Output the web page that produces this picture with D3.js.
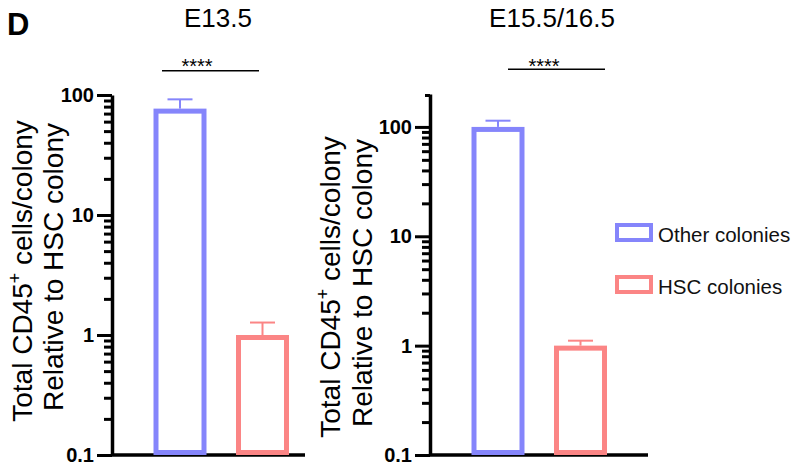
<!DOCTYPE html>
<html>
<head>
<meta charset="utf-8">
<script src="https://cdn.jsdelivr.net/npm/d3@7"></script>
<style>
  html, body { margin: 0; padding: 0; background: #fff; }
  svg { display: block; font-family: "Liberation Sans", Arial, sans-serif; }
</style>
</head>
<body>
<svg id="chart" width="794" height="467"></svg>
<script>
// ---- data ----
const panelTitles = ["E13.5", "E15.5/16.5"];
const categories = ["Other colonies", "HSC colonies"];
const meansE13 = [77, 1.0];
const upperE13 = [92, 1.27];
const meansE15 = [100, 1.0];
const upperE15 = [114, 1.11];
const significance = ["****", "****"];
const majorTicks = [0.1, 1, 10, 100];
const majorTickLabels = ["0.1", "1", "10", "100"];
const domainE13 = [0.1, 100];
const domainE15 = [0.1, 200];

// ---- layout / style ----
const colors = ["#8585fb", "#fb8585"];
const svg = d3.select("#chart");

const panels = [
  { title: panelTitles[0], means: meansE13, upper: upperE13, domain: domainE13,
    axisX: 112, top: 95, base: 455, xEnd: 305, titleX: 218, titleY: 27,
    labelX: [32, 63], labelCY: 271, sig: significance[0], sigX: [162, 259], sigY: 70.7, starX: 197 },
  { title: panelTitles[1], means: meansE15, upper: upperE15, domain: domainE15,
    axisX: 430, top: 94, base: 455, xEnd: 648, titleX: 552, titleY: 27,
    labelX: [340, 372], labelCY: 287, sig: significance[1], sigX: [508, 605], sigY: 69.3, starX: 544 }
];

// panel letter
svg.append("text").attr("x", 7).attr("y", 35)
  .attr("font-size", 31).attr("font-weight", "bold").text("D");

function minorValues(domain) {
  const out = [];
  const lo = Math.floor(Math.log10(domain[0]));
  const hi = Math.ceil(Math.log10(domain[1]));
  for (let e = lo; e < hi; e++) {
    for (let m = 2; m <= 9; m++) {
      const v = m * Math.pow(10, e);
      if (v > domain[0] * 1.0001 && v < domain[1] * 0.9999) out.push(v);
    }
  }
  return out;
}

panels.forEach(p => {
  const g = svg.append("g");
  const y = d3.scaleLog().domain(p.domain).range([p.base, p.top]);
  const x = d3.scaleBand().domain(categories)
    .range([p.axisX + 41.5, p.axisX + 177]).paddingInner(0.3576).paddingOuter(0);

  // title
  g.append("text").attr("x", p.titleX).attr("y", p.titleY)
    .attr("text-anchor", "middle").attr("font-size", 26).text(p.title);

  // major axis
  const majAxis = d3.axisLeft(y).tickValues(majorTicks)
    .tickFormat((d, i) => majorTickLabels[i]).tickSize(15).tickSizeOuter(0).tickPadding(3);
  const ga = g.append("g").attr("transform", `translate(${p.axisX},0)`).call(majAxis);
  ga.select(".domain").attr("stroke", "#000").attr("stroke-width", 3.5);
  ga.selectAll(".tick line").attr("stroke", "#000").attr("stroke-width", 3);
  ga.selectAll(".tick text").attr("font-size", 20).attr("font-weight", "bold")
    .attr("fill", "#000").attr("font-family", "'Liberation Sans', Arial, sans-serif");

  // minor ticks
  const minAxis = d3.axisLeft(y).tickValues(minorValues(p.domain)).tickSize(8)
    .tickSizeOuter(0).tickFormat("");
  const gm = g.append("g").attr("transform", `translate(${p.axisX},0)`).call(minAxis);
  gm.select(".domain").remove();
  gm.selectAll(".tick line").attr("stroke", "#000").attr("stroke-width", 3);

  // top end tick (if axis extends beyond last major)
  if (p.domain[1] > majorTicks[majorTicks.length - 1]) {
    g.append("line").attr("x1", p.axisX - 5).attr("x2", p.axisX)
      .attr("y1", y(p.domain[1]) + 1.5).attr("y2", y(p.domain[1]) + 1.5)
      .attr("stroke", "#000").attr("stroke-width", 3);
  }

  // x-axis line
  g.append("line").attr("x1", p.axisX).attr("x2", p.xEnd)
    .attr("y1", y(p.domain[0])).attr("y2", y(p.domain[0]))
    .attr("stroke", "#000").attr("stroke-width", 3.5);

  // bars (stroke drawn inside bar bounds)
  const sw = 5;
  categories.forEach((c, i) => {
    const v = p.means[i];
    g.append("rect")
      .attr("x", x(c) + sw / 2).attr("y", y(v) + sw / 2)
      .attr("width", x.bandwidth() - sw)
      .attr("height", y(p.domain[0]) - y(v) - sw)
      .attr("fill", "none").attr("stroke", colors[i]).attr("stroke-width", sw);
    const cx = x(c) + x.bandwidth() / 2;
    g.append("line").attr("x1", cx).attr("x2", cx)
      .attr("y1", y(v)).attr("y2", y(p.upper[i]))
      .attr("stroke", colors[i]).attr("stroke-width", 2);
    g.append("line").attr("x1", cx - 12.5).attr("x2", cx + 12.5)
      .attr("y1", y(p.upper[i])).attr("y2", y(p.upper[i]))
      .attr("stroke", colors[i]).attr("stroke-width", 2);
  });

  // significance
  g.append("line").attr("x1", p.sigX[0]).attr("x2", p.sigX[1])
    .attr("y1", p.sigY).attr("y2", p.sigY).attr("stroke", "#000").attr("stroke-width", 1.5);
  g.append("text").attr("x", p.starX).attr("y", 73).attr("text-anchor", "middle")
    .attr("font-size", 20).text(p.sig);

  // y label (two lines, rotated)
  const t1 = g.append("text").attr("transform", `translate(${p.labelX[0]},${p.labelCY}) rotate(-90)`)
    .attr("text-anchor", "middle").attr("font-size", 28);
  t1.append("tspan").text("Total CD45");
  t1.append("tspan").attr("font-size", 18).attr("dy", -11).text("+");
  t1.append("tspan").attr("dy", 11).text(" cells/colony");
  g.append("text").attr("transform", `translate(${p.labelX[1]},${p.labelCY - 4}) rotate(-90)`)
    .attr("text-anchor", "middle").attr("font-size", 28).text("Relative to HSC colony");
});

// legend
const legend = svg.append("g");
const legendY = [225, 277];
categories.forEach((c, i) => {
  legend.append("rect").attr("x", 617).attr("y", legendY[i]).attr("width", 34).attr("height", 15)
    .attr("fill", "#fff").attr("stroke", colors[i]).attr("stroke-width", 4);
  legend.append("text").attr("x", 658).attr("y", legendY[i] + 16.5)
    .attr("font-size", 20.5).attr("fill", "#111").text(c);
});
</script>
</body>
</html>
